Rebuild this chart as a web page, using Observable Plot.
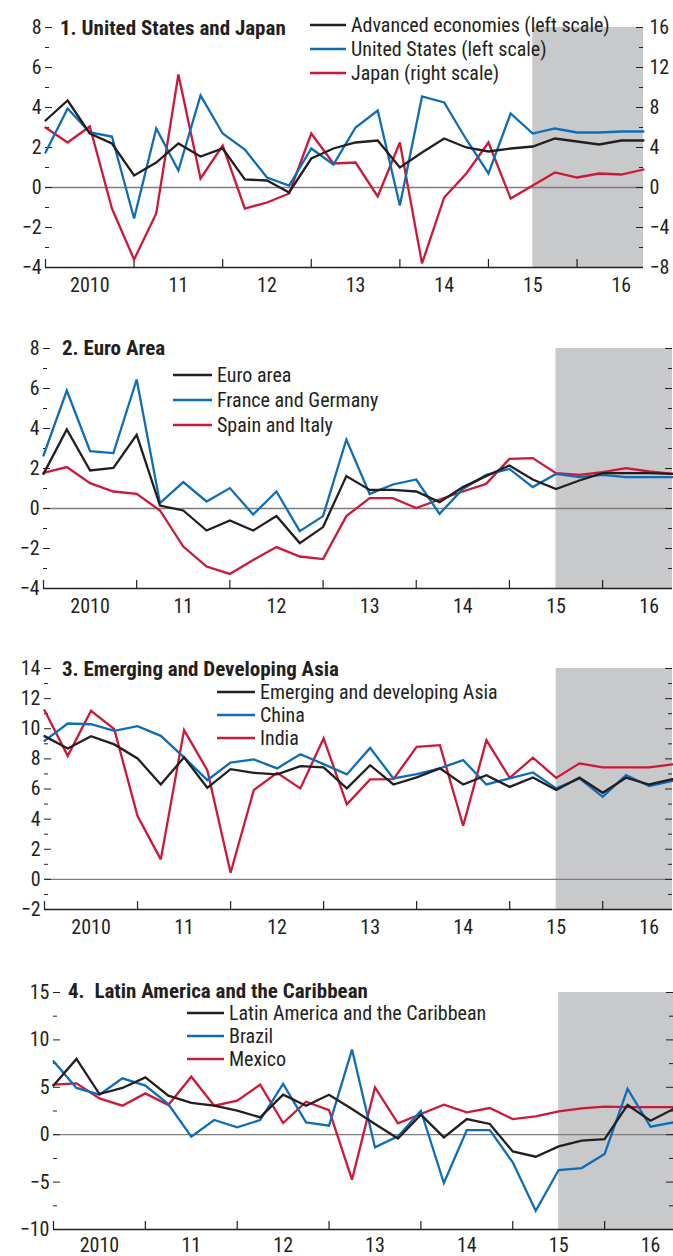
<!DOCTYPE html>
<html><head><meta charset="utf-8">
<script src="https://cdn.jsdelivr.net/npm/d3@7"></script>
<script src="https://cdn.jsdelivr.net/npm/@observablehq/plot@0.6"></script>
<style>
body{margin:0;background:#fff;}
#root{position:relative;width:673px;height:1256px;overflow:hidden;}
#root svg{position:absolute;left:0;display:block;overflow:visible;}
</style></head><body><div id="root"></div>
<script>
// ---------- categories ----------
const quarters = ["2010Q1","2010Q2","2010Q3","2010Q4","2011Q1","2011Q2","2011Q3","2011Q4",
  "2012Q1","2012Q2","2012Q3","2012Q4","2013Q1","2013Q2","2013Q3","2013Q4",
  "2014Q1","2014Q2","2014Q3","2014Q4","2015Q1","2015Q2","2015Q3","2015Q4",
  "2016Q1","2016Q2","2016Q3","2016Q4"];
const yearBoundaries = ["2010Q1","2011Q1","2012Q1","2013Q1","2014Q1","2015Q1","2016Q1"];
const yearLabelAt = ["2010Q3","2011Q3","2012Q3","2013Q3","2014Q3","2015Q3","2016Q3"];
const yearLabels = ["2010","11","12","13","14","15","16"];
const projectionStart = "2015Q3";

// ---------- panel 1: United States and Japan ----------
const advancedEconomies = [3.35,4.35,2.7,2.2,0.6,1.25,2.2,1.55,1.95,0.4,0.35,-0.25,1.45,1.95,2.25,2.35,1.0,1.75,2.45,2.0,1.8,1.95,2.05,2.45,2.3,2.15,2.35,2.35];
const unitedStates = [1.75,3.95,2.75,2.55,-1.55,2.95,0.85,4.6,2.7,1.9,0.5,0.1,1.95,1.15,3.0,3.85,-0.9,4.55,4.25,2.4,0.7,3.7,2.7,2.95,2.75,2.75,2.8,2.8];
const japan = [6.0,4.5,6.1,-2.1,-7.2,-2.6,11.3,0.9,4.2,-2.1,-1.5,-0.6,5.4,2.4,2.5,-0.9,4.5,-7.6,-1.0,1.4,4.5,-1.1,0.2,1.5,1.0,1.4,1.3,1.8];

// ---------- panel 2: Euro Area ----------
const euroArea = [1.73,3.95,1.9,2.03,3.68,0.15,-0.1,-1.1,-0.6,-1.1,-0.38,-1.73,-0.93,1.62,0.93,0.93,0.85,0.32,1.07,1.62,2.15,1.45,0.97,1.4,1.77,1.77,1.77,1.73];
const franceGermany = [2.65,5.9,2.87,2.77,6.45,0.27,1.32,0.35,1.02,-0.3,0.85,-1.13,-0.38,3.45,0.73,1.2,1.45,-0.27,0.98,1.68,1.98,1.07,1.73,1.57,1.68,1.57,1.57,1.57];
const spainItaly = [1.78,2.07,1.27,0.85,0.73,-0.1,-1.9,-2.9,-3.27,-2.57,-1.93,-2.4,-2.53,-0.38,0.52,0.52,0.02,0.45,0.85,1.23,2.48,2.52,1.77,1.68,1.82,2.02,1.85,1.73];

// ---------- panel 3: Emerging and Developing Asia ----------
const emergingAsia = [9.51,8.69,9.51,8.96,8.03,6.3,8.1,6.08,7.32,7.07,6.97,7.52,7.43,6.04,7.58,6.3,6.77,7.37,6.3,6.92,6.14,6.77,5.93,6.75,5.75,6.75,6.3,6.66];
const china = [9.2,10.35,10.3,9.86,10.17,9.53,8.1,6.59,7.76,7.96,7.37,8.31,7.65,6.97,8.73,6.7,6.99,7.37,7.92,6.3,6.7,7.1,6.04,6.7,5.48,6.92,6.19,6.54];
const india = [11.23,8.2,11.19,9.97,4.2,1.33,9.91,7.25,0.44,5.93,7.07,6.04,9.36,4.98,6.64,6.65,8.8,8.91,3.56,9.24,6.74,8.08,6.74,7.7,7.43,7.43,7.43,7.63];

// ---------- panel 4: Latin America and the Caribbean ----------
const latinAmerica = [5.18,7.99,4.29,4.93,6.05,4.12,3.35,3.06,2.53,1.83,4.22,3.06,4.22,2.71,1.13,-0.4,2.11,-0.28,1.65,1.13,-1.77,-2.32,-1.23,-0.63,-0.46,3.14,1.48,2.71];
const brazil = [7.74,4.93,4.22,5.95,5.18,3.24,-0.21,1.55,0.77,1.55,5.35,1.3,0.95,8.98,-1.34,-0.18,2.53,-5.1,0.49,0.49,-2.92,-8.03,-3.73,-3.52,-2.04,4.83,0.84,1.3];
const mexico = [5.28,5.42,3.83,3.06,4.36,3.14,6.12,3.06,3.59,5.28,1.23,3.48,2.6,-4.75,4.99,1.2,2.18,3.17,2.35,2.81,1.65,1.93,2.46,2.78,2.96,2.9,2.9,2.9];

// ---------- tick values ----------
const ticks1Major = [-4,-2,0,2,4,6,8], ticks1Minor = [-3,-1,1,3,5,7];
const ticks1Right = [-8,-4,0,4,8,12,16];
const ticks3Major = [-2,0,2,4,6,8,10,12,14], ticks3Minor = [-1,1,3,5,7,9,11,13];
const ticks4Major = [-10,-5,0,5,10,15], ticks4Minor = [-7.5,-2.5,2.5,7.5,12.5];

// ---------- font selection ----------
function hasFont(name) {
  const c = document.createElement("canvas").getContext("2d");
  const s = "abcdefghijklmnopqrstuvwxyzABCDEFGHIJ0123456789";
  for (const base of ["monospace", "serif"]) {
    c.font = `40px ${base}`; const a = c.measureText(s).width;
    c.font = `40px "${name}", ${base}`; const b = c.measureText(s).width;
    if (Math.abs(a - b) > 0.5) return true;
  }
  return false;
}
const narrowFonts = ["Liberation Sans Narrow", "Roboto Condensed", "Arial Narrow", "Nimbus Sans Narrow"];
const narrow = narrowFonts.find(hasFont);
const FONT = narrow ? `"${narrow}", "Liberation Sans", sans-serif` : `"Liberation Sans", Arial, sans-serif`;
const SQUEEZE = narrow ? 1 : 0.88;

// ---------- styling ----------
const INK = "#231f20";
const BLACK = "#231f20", BLUE = "#0f6db6", RED = "#cc1839";
const SHADE = "#c8c9cb";
const W = 673;
const qi = q => quarters.indexOf(q);
const fmt = v => v < 0 ? "\u2212" + Math.abs(v) : String(v);

function panel(cfg) {
  const [mt, mr, mb, ml] = cfg.margin;
  const pw = W - ml - mr, ph = cfg.height - mt - mb;
  const [y0, y1] = cfg.domain;
  const marks = [
    Plot.rect([projectionStart], {x1: d => qi(d), x2: () => quarters.length - 1, y1: () => y0, y2: () => y1, fill: SHADE}),
    Plot.ruleY([0], {stroke: "#7d7d7d", strokeWidth: 1.3}),
    Plot.tickY(cfg.major, {y: d => d, insetRight: pw - 7, stroke: INK, strokeWidth: 1}),
    Plot.tickY(cfg.minor, {y: d => d, insetRight: pw - 4, stroke: INK, strokeWidth: 1}),
    Plot.tickY(cfg.major, {y: d => d, insetLeft: pw - 7, stroke: INK, strokeWidth: 1}),
    Plot.tickY(cfg.minor, {y: d => d, insetLeft: pw - 4, stroke: INK, strokeWidth: 1}),
    Plot.ruleY([y0], {stroke: INK, strokeWidth: 1.3}),
    Plot.tickX(yearBoundaries, {x: d => qi(d), insetTop: ph - 8, stroke: INK, strokeWidth: 1.2}),
  ];
  [...cfg.series].reverse().forEach(s => {
    const f = s.factor || 1;
    marks.push(Plot.line(s.values.map((v, i) => ({q: i, v: v / f})), {x: "q", y: "v", stroke: s.color, strokeWidth: 2.3, strokeLinejoin: "miter", strokeMiterlimit: 3}));
  });
  marks.push(Plot.axisY(cfg.major, {anchor: "left", tickSize: 0, tickPadding: 4, tickFormat: fmt, fill: INK, label: null}));
  if (cfg.right) marks.push(Plot.axisY(cfg.right.map(v => v / 2), {anchor: "right", tickSize: 0, tickPadding: 6, tickFormat: d => fmt(d * 2), fill: INK, label: null}));
  marks.push(Plot.axisX(yearLabelAt.map(qi), {anchor: "bottom", tickSize: 0, tickPadding: cfg.xPad ?? 10, tickFormat: d => yearLabels[yearLabelAt.indexOf(quarters[d])], fill: INK, label: null}));

  const svg = Plot.plot({
    width: W, height: cfg.height,
    marginTop: mt, marginRight: mr, marginBottom: mb, marginLeft: ml,
    x: {type: "linear", domain: [0, quarters.length - 1], label: null},
    y: {type: "linear", domain: [y0, y1], label: null},
    style: {fontFamily: FONT, fontSize: "20px", color: INK, background: "transparent", overflow: "visible"},
    marks
  });
  svg.style.top = cfg.top + "px";
  const g = d3.select(svg).append("g").attr("font-family", FONT).attr("font-size", 20)
    .attr("fill", INK).attr("text-anchor", "start");
  g.append("text").attr("x", cfg.title.x).attr("y", cfg.title.y).attr("dy", "0.36em")
    .attr("font-weight", "bold").attr("font-size", 21).attr("xml:space", "preserve").style("white-space", "pre").text(cfg.title.text);
  cfg.series.forEach((s, k) => {
    const y = cfg.legend.y + k * cfg.legend.dy;
    g.append("line").attr("x1", cfg.legend.x).attr("x2", cfg.legend.x + cfg.legend.len)
      .attr("y1", y).attr("y2", y).attr("stroke", s.color).attr("stroke-width", 2.6);
    g.append("text").attr("x", cfg.legend.x + cfg.legend.len + 5).attr("y", y).attr("dy", "0.36em").text(s.label);
  });
  document.getElementById("root").appendChild(svg);
  if (SQUEEZE !== 1) {
    svg.querySelectorAll("text").forEach(t => {
      const L = t.getComputedTextLength();
      if (L > 0) { t.setAttribute("textLength", (L * SQUEEZE).toFixed(2)); t.setAttribute("lengthAdjust", "spacingAndGlyphs"); }
    });
  }
}

panel({
  top: 0, height: 315, margin: [27, 30, 48, 45], domain: [-4, 8],
  major: ticks1Major, minor: ticks1Minor, right: ticks1Right,
  title: {text: "1. United States and Japan", x: 60, y: 27},
  legend: {x: 310, y: 25, dy: 24, len: 36},
  series: [
    {label: "Advanced economies (left scale)", values: advancedEconomies, color: BLACK},
    {label: "United States (left scale)", values: unitedStates, color: BLUE},
    {label: "Japan (right scale)", values: japan, color: RED, factor: 2}
  ]
});
panel({
  top: 315, height: 325, margin: [33, 1, 52, 43], domain: [-4, 8],
  major: ticks1Major, minor: ticks1Minor,
  title: {text: "2. Euro Area", x: 62, y: 32},
  legend: {x: 173, y: 60, dy: 25, len: 39},
  series: [
    {label: "Euro area", values: euroArea, color: BLACK},
    {label: "France and Germany", values: franceGermany, color: BLUE},
    {label: "Spain and Italy", values: spainItaly, color: RED}
  ]
});
panel({
  top: 640, height: 320, margin: [28, 1, 51, 44], domain: [-2, 14],
  major: ticks3Major, minor: ticks3Minor,
  title: {text: "3. Emerging and Developing Asia", x: 62, y: 28},
  legend: {x: 217, y: 52, dy: 23, len: 38},
  series: [
    {label: "Emerging and developing Asia", values: emergingAsia, color: BLACK},
    {label: "China", values: china, color: BLUE},
    {label: "India", values: india, color: RED}
  ]
});
panel({
  top: 960, height: 296, margin: [32, 0, 27, 53], domain: [-10, 15], xPad: 8,
  major: ticks4Major, minor: ticks4Minor,
  title: {text: "4.  Latin America and the Caribbean", x: 68, y: 30},
  legend: {x: 187, y: 53, dy: 23, len: 37},
  series: [
    {label: "Latin America and the Caribbean", values: latinAmerica, color: BLACK},
    {label: "Brazil", values: brazil, color: BLUE},
    {label: "Mexico", values: mexico, color: RED}
  ]
});
</script></body></html>
